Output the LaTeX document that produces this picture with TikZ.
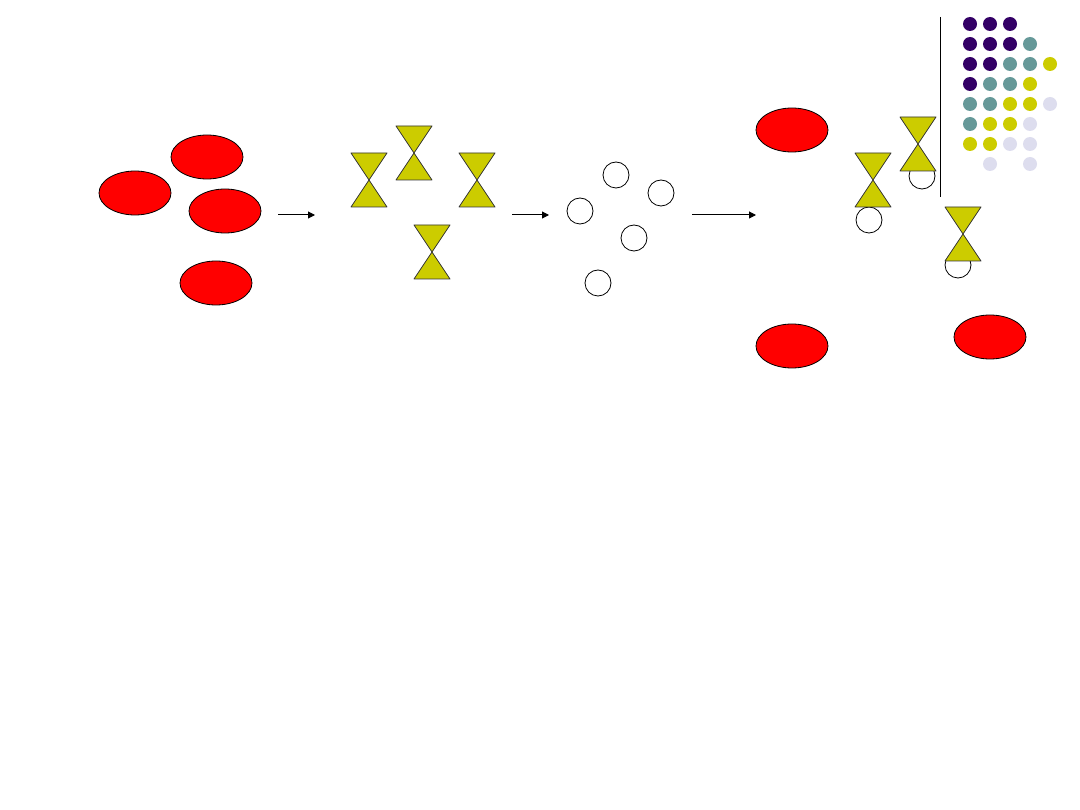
\documentclass[tikz,border=0pt]{standalone}
\usepackage{tikz}
\usetikzlibrary{arrows.meta,shapes.geometric}
\definecolor{cellred}{HTML}{FF0000}
\definecolor{olive}{HTML}{CCCC00}
\definecolor{plum}{HTML}{330066}
\definecolor{slate}{HTML}{669999}
\definecolor{lilac}{HTML}{DDDDEE}

\begin{document}
\begin{tikzpicture}[x=1pt,y=-1pt,
    cell/.style={ellipse,draw=black,fill=cellred,line width=.8pt,minimum width=72pt,minimum height=44pt,inner sep=0pt},
    ring/.style={circle,draw=black,fill=white,line width=.8pt,minimum size=26pt,inner sep=0pt},
    dot/.style={circle,fill=#1,minimum size=14pt,inner sep=0pt},
    hglass/.pic={\filldraw[fill=olive,draw=black!80,line width=.8pt,line join=round]
      (-18,-27)--(18,-27)--(0,0)--cycle (0,0)--(-18,27)--(18,27)--cycle;}]
    \useasboundingbox (0,0) rectangle (1080,810);
    % red cells
    \node[cell] (c1) at (207,157) {};
    \node[cell] (c2) at (135,193) {};
    \node[cell] (c3) at (225,211) {};
    \node[cell] (c4) at (216,283) {};
    % hourglasses
    \foreach \x/\y in {369/180,414/153,477/180,432/252}
      \pic at (\x,\y) {hglass};
    % empty rings
    \node[ring] (r1) at (616,175) {};
    \node[ring] (r2) at (661,193) {};
    \node[ring] (r3) at (580,211) {};
    \node[ring] (r4) at (634,238) {};
    \node[ring] (r5) at (598,283) {};
    % arrows
    \coordinate (a1) at (278,215); \coordinate (b1) at (315,215);
    \coordinate (a2) at (512,215); \coordinate (b2) at (549,215);
    \coordinate (a3) at (692,215); \coordinate (b3) at (756,215);
    \foreach \i in {1,2,3}
      \draw[-{Triangle[length=7pt,width=7pt]},line width=1pt] (a\i)--(b\i);
    % right group
    \node[cell] (c5) at (792,130) {};
    \node[cell] (c6) at (792,346) {};
    \node[cell] (c7) at (990,337) {};
    \node[ring] (r6) at (869,220) {};
    \node[ring] (r7) at (922,176) {};
    \node[ring] (r8) at (958,265) {};
    \pic at (873,180) {hglass};
    \pic at (918,144) {hglass};
    \pic at (963,234) {hglass};
    % corner dots
    \coordinate (t) at (940,17); \coordinate (s) at (940,197);
    \draw[line width=1pt] (t)--(s);
    \foreach \x/\y in {970/24,990/24,1010/24,970/44,990/44,1010/44,970/64,990/64,970/84}
      \node[dot=plum] at (\x,\y) {};
    \foreach \x/\y in {1030/44,1010/64,1030/64,990/84,1010/84,970/104,990/104,970/124}
      \node[dot=slate] at (\x,\y) {};
    \foreach \x/\y in {1050/64,1030/84,1010/104,1030/104,990/124,1010/124,970/144,990/144}
      \node[dot=olive] at (\x,\y) {};
    \foreach \x/\y in {1050/104,1030/124,1010/144,1030/144,990/164,1030/164}
      \node[dot=lilac] at (\x,\y) {};
  \end{tikzpicture}
\end{document}
